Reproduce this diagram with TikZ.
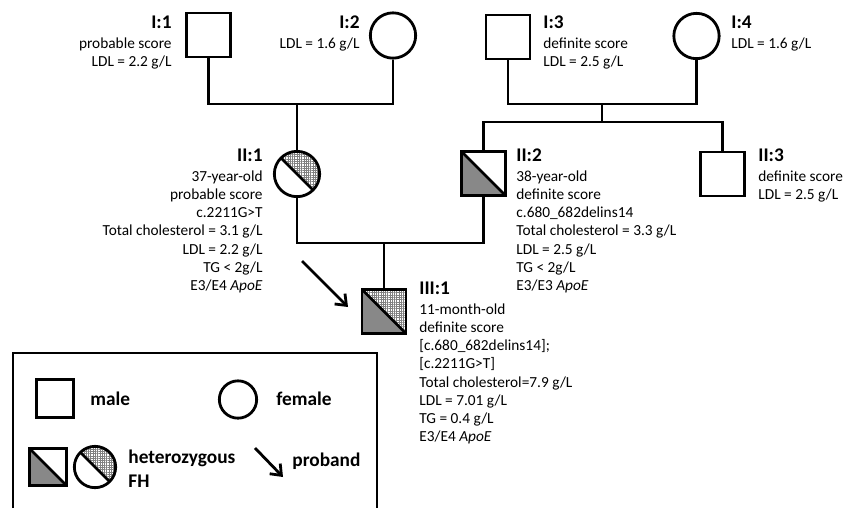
\documentclass[tikz,border=0pt]{standalone}
\usepackage{fontspec}
\setmainfont{Carlito}
\usepackage{tikz}
\usetikzlibrary{patterns.meta, arrows.meta}

\definecolor{fhgray}{RGB}{136,136,136}
\newcommand{\lab}[1]{{\fontsize{14.5}{13.7}\selectfont\bfseries #1}\\[1.3pt]}

\begin{document}
\begin{tikzpicture}[
        x=0.75pt, y=-0.75pt,
        line width=2.1pt,
        % Define styles for the pedigree symbols
        male/.style={draw, rectangle, minimum size=33pt, inner sep=0pt},
        female/.style={draw, circle, minimum size=34pt, inner sep=0pt},
        hetmale/.style={male, path picture={
            \fill[fhgray] (path picture bounding box.north west) -- (path picture bounding box.south west) -- (path picture bounding box.south east) -- cycle;
            \draw (path picture bounding box.north west) -- (path picture bounding box.south east);}},
        hetfemale/.style={female, path picture={
            \fill[pattern={Hatch[angle=0, distance=1.7pt, line width=0.35pt]}, pattern color=gray] (path picture bounding box.north west) -- (path picture bounding box.north east) -- (path picture bounding box.south east) -- cycle;
            \draw (path picture bounding box.north west) -- (path picture bounding box.south east);}},
        compmale/.style={male, path picture={
            \fill[fhgray] (path picture bounding box.north west) -- (path picture bounding box.south west) -- (path picture bounding box.south east) -- cycle;
            \fill[pattern={Hatch[angle=0, distance=1.7pt, line width=0.35pt]}, pattern color=gray] (path picture bounding box.north west) -- (path picture bounding box.north east) -- (path picture bounding box.south east) -- cycle;
            \draw (path picture bounding box.north west) -- (path picture bounding box.south east);}},
        % the base anchor of these nodes sits on the last line
        info/.style={font=\fontsize{11.5}{13.7}\selectfont, inner sep=0pt},
        legtext/.style={font=\fontsize{14.5}{18}\selectfont\bfseries, inner sep=0pt, align=left},
        proband/.style={-{Straight Barb[length=7pt, width=11pt]}}
    ]
    \useasboundingbox (0,0) rectangle (843,508);

    % Draw the first generation
    \node[male] (i1) at (208.5,35) {};
    \node[female] (i2) at (393,35.5) {};
    \node[male] (i3) at (508,37) {};
    \node[female] (i4) at (696.5,36) {};

    % Draw the second and third generation
    \node[hetfemale] (ii1) at (297,174) {};
    \node[hetmale] (ii2) at (483.5,173.5) {};
    \node[male] (ii3) at (722.5,174) {};
    \node[compmale] (iii1) at (384,311.5) {};

    % Draw the mating and sibship lines
    \coordinate (m12) at (297,104);
    \coordinate (m34) at (602,104);
    \coordinate (s34) at (602,122);
    \coordinate (mii) at (384,243);
    \draw (i1.south) |- (m12) -| (i2.south);
    \draw (m12) -- (ii1.north);
    \draw (i3.south) |- (m34) -| (i4.south);
    \draw (m34) -- (s34);
    \draw (ii2.north) |- (s34) -| (ii3.north);
    \draw (ii1.south) |- (mii) -| (ii2.south);
    \draw (mii) -- (iii1.north);

    % Proband arrow
    \coordinate (pa) at (302,261);
    \coordinate (pb) at (348,307);
    \draw[proband] (pa) -- (pb);

    % Labels of the individuals
    \node[info, align=right, anchor=base east] (t1) at (173,66.3) {\lab{I:1}probable score\\LDL = 2.2 g/L};
    \node[info, align=right, anchor=base east] (t2) at (361,48) {\lab{I:2}LDL = 1.6 g/L};
    \node[info, align=left, anchor=base west] (t3) at (542,66.3) {\lab{I:3}definite score\\LDL = 2.5 g/L};
    \node[info, align=left, anchor=base west] (t4) at (730,48) {\lab{I:4}LDL = 1.6 g/L};
    \node[info, align=right, anchor=base east] (tii1) at (264,290.6) {\lab{II:1}37-year-old\\probable score\\c.2211G>T\\Total cholesterol = 3.1 g/L\\LDL = 2.2 g/L\\TG < 2g/L\\E3/E4 \textit{ApoE}};
    \node[info, align=left, anchor=base west] (tii2) at (515,290.6) {\lab{II:2}38-year-old\\definite score\\c.680\_682delins14\\Total cholesterol = 3.3 g/L\\LDL = 2.5 g/L\\TG < 2g/L\\E3/E3 \textit{ApoE}};
    \node[info, align=left, anchor=base west] (tii3) at (757,199.3) {\lab{II:3}definite score\\LDL = 2.5 g/L};
    \node[info, align=left, anchor=base west] (tiii1) at (418,441.9) {\lab{III:1}11-month-old\\definite score\\{[c.680\_682delins14];}\\{[c.2211G>T]}\\Total cholesterol=7.9 g/L\\LDL = 7.01 g/L\\TG = 0.4 g/L\\E3/E4 \textit{ApoE}};

    % Draw the legend
    \draw (13,508) -- (13,353) -- (377,353) -- (377,508);
    \node[male, minimum size=28pt] (lm) at (55,398.5) {};
    \node[legtext, anchor=base west] (lmt) at (89,405) {male};
    \node[female, minimum size=28pt] (lf) at (238,399.5) {};
    \node[legtext, anchor=base west] (lft) at (275,405) {female};
    \node[hetmale, minimum size=28pt] (lhm) at (48,467) {};
    \node[hetfemale, minimum size=31pt] (lhf) at (95,467) {};
    \node[legtext, anchor=base west] (lht) at (127,487) {heterozygous\\FH};
    \coordinate (la) at (255,448);
    \coordinate (lb) at (283,477);
    \draw[proband] (la) -- (lb);
    \node[legtext, anchor=base west] (lpt) at (291,466) {proband};

\end{tikzpicture}
\end{document}
